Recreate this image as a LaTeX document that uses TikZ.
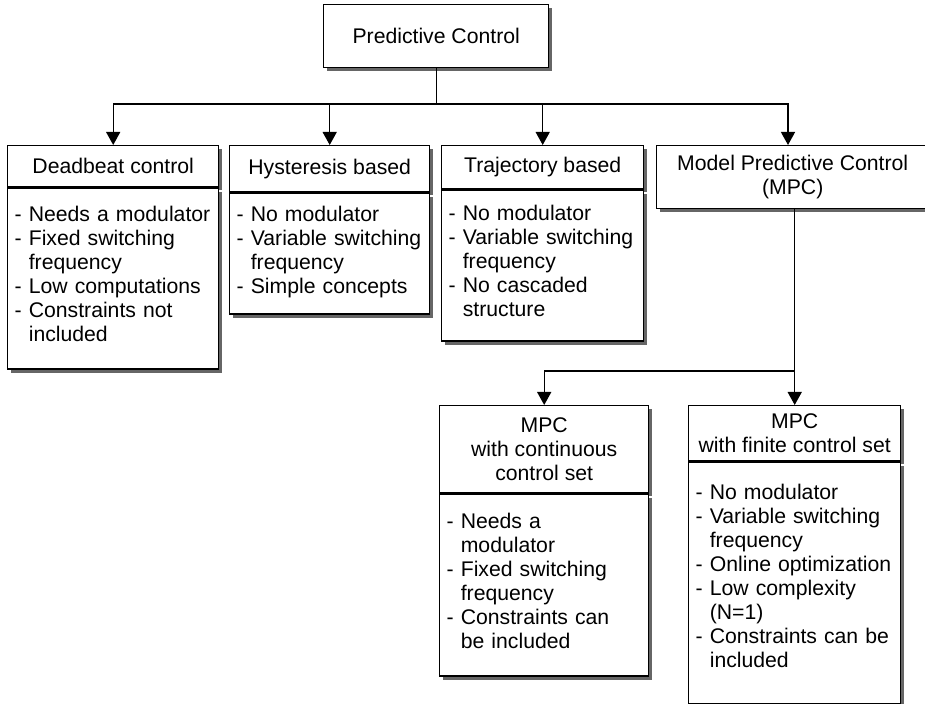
\documentclass[tikz,border=0pt]{standalone}
\usepackage{fontspec}
\setmainfont{Liberation Sans}
\usetikzlibrary{arrows.meta,shadows}

% Einzug fuer Folgezeilen
\newcommand{\cont}{\hphantom{-\ }}

\begin{document}
\begin{tikzpicture}[x=0.5pt, y=-0.5pt,
    font=\fontsize{10.6pt}{12pt}\selectfont,
    kopf/.style={draw, fill=white, line width=0.7pt, align=center, inner sep=0pt,
        anchor=north west,
        drop shadow={shadow xshift=1.8pt, shadow yshift=-1.8pt, fill=black!60, opacity=1}},
    liste/.style={kopf, align=left, inner xsep=3.5pt, inner ysep=0pt},
    pfeil/.style={-{Triangle[length=6.5pt,width=7pt]}, line width=0.7pt}]

    \useasboundingbox (0,0) rectangle (925,704);

    % Wurzel
    \node[kopf, minimum width=112.5pt, minimum height=31.5pt] (top) at (323,4) {Predictive Control};

    % Deadbeat
    \node[kopf, minimum width=105.5pt, minimum height=20.5pt] (deadH) at (7,145) {Deadbeat control};
    \node[liste, text width=98.5pt, text height=16.5pt, text depth=74pt] (deadB) at (deadH.south west)
        {- Needs a modulator\\- Fixed switching\\\cont frequency\\- Low computations\\- Constraints not\\\cont included};

    % Hysterese
    \node[kopf, minimum width=100pt, minimum height=23pt] (hystH) at (229,145) {Hysteresis based};
    \node[liste, text width=93pt, text height=14pt, text depth=46.5pt] (hystB) at (hystH.south west)
        {- No modulator\\- Variable switching\\\cont frequency\\- Simple concepts};

    % Trajektorie
    \node[kopf, minimum width=101pt, minimum height=21.5pt] (trajH) at (441,145) {Trajectory based};
    \node[liste, text width=94pt, text height=15pt, text depth=60.5pt] (trajB) at (trajH.south west)
        {- No modulator\\- Variable switching\\\cont frequency\\- No cascaded\\\cont structure};

    % MPC
    \node[kopf, minimum width=136pt, minimum height=31.5pt] (mpcH) at (656,145) {Model Predictive Control\\(MPC)};

    % MPC kontinuierlich
    \node[kopf, minimum width=104.5pt, minimum height=43.5pt] (contH) at (439,405) {MPC\\with continuous\\control set};
    \node[liste, text width=97.5pt, text height=17pt, text depth=74pt] (contB) at (contH.south west)
        {- Needs a\\\cont modulator\\- Fixed switching\\\cont frequency\\- Constraints can\\\cont be included};

    % MPC endlich
    \node[kopf, minimum width=106pt, minimum height=27.5pt] (finH) at (688,405) {MPC\\with finite control set};
    \node[liste, text width=99pt, text height=18.5pt, text depth=102.5pt] (finB) at (finH.south west)
        {- No modulator\\- Variable switching\\\cont frequency\\- Online optimization\\- Low complexity\\\cont (N=1)\\- Constraints can be\\\cont included};

    % Verbindungen oben
    \coordinate (bus) at (top.south |- 0,104);
    \coordinate (mpcin) at (788,0);
    \draw[line width=0.7pt] (top.south) -- (bus);
    \draw[pfeil] (bus) -| (deadH.north);
    \draw[pfeil] (bus) -| (hystH.north);
    \draw[pfeil] (bus) -| (trajH.north);
    \draw[pfeil] (bus) -| (mpcin |- mpcH.north);

    % Verbindungen unten
    \coordinate (bus2) at (finH.north |- 0,371);
    \draw[line width=0.7pt] (mpcH.south -| bus2) -- (bus2);
    \draw[pfeil] (bus2) -| (contH.north);
    \draw[pfeil] (bus2) -- (finH.north);
\end{tikzpicture}
\end{document}
